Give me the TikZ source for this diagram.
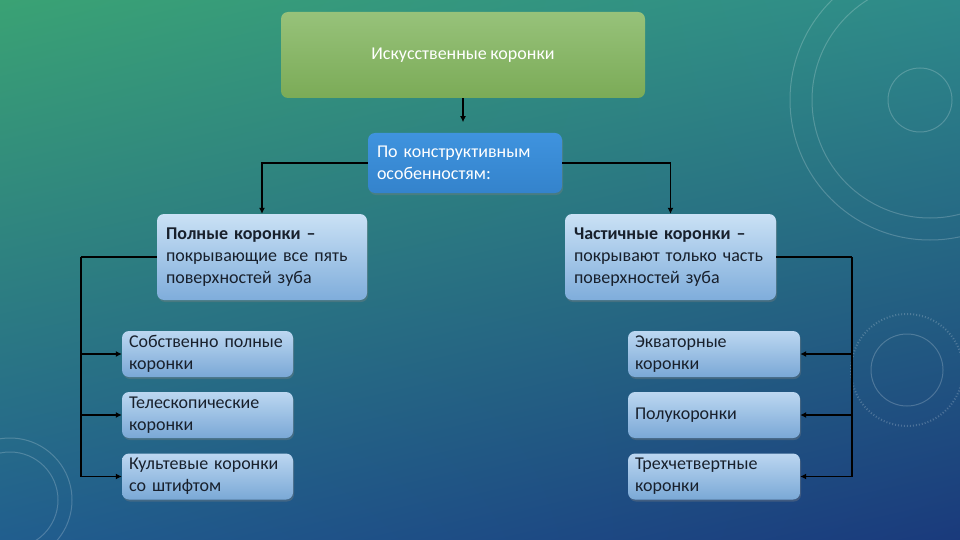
\documentclass[tikz,border=0pt]{standalone}
\usepackage{fontspec}
\setmainfont{Carlito}[WordSpace=0.85]
\usetikzlibrary{arrows.meta,shadows,shadings}

\definecolor{bgtl}{HTML}{3AA274}
\definecolor{bgtr}{HTML}{2E8A8A}
\definecolor{bgbl}{HTML}{215E8E}
\definecolor{bgbr}{HTML}{1A3A7C}
\definecolor{boxtxt}{HTML}{18202C}
\definecolor{greentop}{HTML}{97C27A}
\definecolor{greenbot}{HTML}{7BAB57}
\definecolor{bluetop}{HTML}{3F93DE}
\definecolor{bluebot}{HTML}{3483CC}
\definecolor{kindtop}{HTML}{CAE1F5}
\definecolor{kindbot}{HTML}{7FADDB}
\definecolor{leaftop}{HTML}{BCD7F1}
\definecolor{leafbot}{HTML}{7AA8D6}

\tikzset{
  box/.style={rounded corners=7pt,minimum height=46pt,inner xsep=9pt,inner ysep=3pt,
    align=left,font=\fontsize{18}{22}\selectfont,text=boxtxt,
    top color=leaftop,bottom color=leafbot,
    drop shadow={opacity=.35,shadow xshift=1pt,shadow yshift=-2pt}},
  kind/.style={box,minimum height=86pt,top color=kindtop,bottom color=kindbot},
  leaf/.style={box,inner xsep=7pt},
  conn/.style={line width=1.6pt,-{Latex[length=6pt,width=6pt]}},
  deco/.style={white,opacity=.2,line width=1pt}
}

\begin{document}
\begin{tikzpicture}[x=1pt,y=-1pt]
  % background
  \shade[upper left=bgtl,upper right=bgtr,lower left=bgbl,lower right=bgbr] (0,0) rectangle (960,540);
  \useasboundingbox (0,0) rectangle (960,540);
  \draw[deco] (930,100) circle (140);
  \draw[deco] (930,100) circle (118);
  \draw[deco] (920,100) circle (32);
  \draw[deco] (907,370) circle (36);
  \draw[deco,dotted,line width=2pt] (907,370) circle (56);
  \draw[deco] (10,500) circle (62);
  \draw[deco] (10,500) circle (48);

  \node[rounded corners=7pt,minimum width=364pt,minimum height=86pt,
    top color=greentop,bottom color=greenbot,
    text=white,font=\fontsize{18}{22}\selectfont] (art) at (463,55) {Искусственные коронки};

  \node[box,text width=176pt,minimum height=60pt,text=white,
    top color=bluetop,bottom color=bluebot] (cons) at (465,163)
    {По конструктивным\\особенностям:};

  \node[kind,text width=192pt] (full) at (262,257)
    {\textbf{Полные коронки –}\\покрывающие все пять\\поверхностей зуба};
  \node[kind,text width=193pt] (part) at (670.5,257)
    {\textbf{Частичные коронки –}\\покрывают только часть\\поверхностей зуба};

  \node[leaf,text width=157pt] (own) at (207.5,354) {Собственно полные\\коронки};
  \node[leaf,text width=157pt] (tele) at (207.5,415) {Телескопические\\коронки};
  \node[leaf,text width=157pt] (pin) at (207.5,476.5) {Культевые коронки\\со штифтом};

  \node[leaf,text width=158pt] (equ) at (714,354) {Экваторные\\коронки};
  \node[leaf,text width=158pt] (half) at (714,415) {Полукоронки};
  \node[leaf,text width=158pt] (tq) at (714,476.5) {Трехчетвертные\\коронки};

  \coordinate (L) at (81,257);
  \coordinate (R) at (852,257);

  \draw[conn] (art.south) -- ++(0,24);
  \draw[conn] (cons.west) -| (full.north);
  \draw[conn] (cons.east) -| (part.north);
  \draw[line width=1.6pt] (full.west) -- (L);
  \draw[line width=1.6pt] (part.east) -- (R);
  \draw[conn] (L) |- (own.west);
  \draw[conn] (L) |- (tele.west);
  \draw[conn] (L) |- (pin.west);
  \draw[conn] (R) |- (equ.east);
  \draw[conn] (R) |- (half.east);
  \draw[conn] (R) |- (tq.east);
\end{tikzpicture}
\end{document}
